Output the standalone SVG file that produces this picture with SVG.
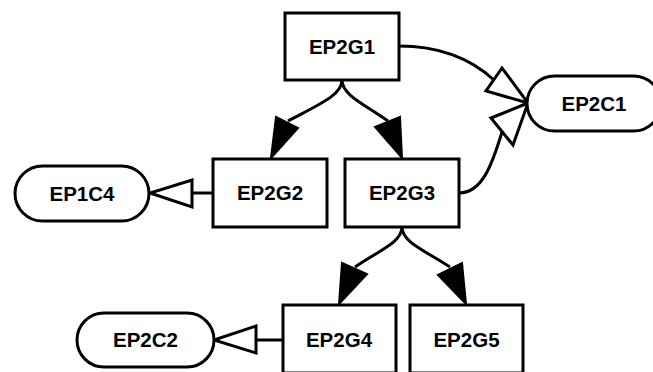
<svg xmlns="http://www.w3.org/2000/svg" width="653" height="372" viewBox="0 0 653 372">
  <style>
    .node rect { fill: #ffffff; stroke: #000000; stroke-width: 3; }
    .node text { font-family: "Liberation Sans", Arial, sans-serif; font-weight: bold; font-size: 20.5px; text-anchor: middle; fill: #000000; }
    .edge path { fill: none; stroke: #000000; stroke-width: 3; }
    .head-solid { fill: #000000; stroke: #000000; stroke-width: 2; stroke-linejoin: miter; }
    .head-open { fill: #ffffff; stroke: #000000; stroke-width: 3; stroke-linejoin: miter; }
  </style>
  <rect width="653" height="372" fill="#ffffff"/>

  <g id="connectors">
    <g class="edge" id="e-g1-g2">
      <path d="M342,80 C342,95 320,104 288,121"/>
      <polygon class="head-solid" points="276,117 298,128 271,158"/>
    </g>
    <g class="edge" id="e-g1-g3">
      <path d="M342,80 C342,95 364,104 388,121"/>
      <polygon class="head-solid" points="375,127 400,117 402,158"/>
    </g>
    <g class="edge" id="e-g3-g4">
      <path d="M402,227 C402,242 380,250 355,267"/>
      <polygon class="head-solid" points="342,263 367,274 339,304"/>
    </g>
    <g class="edge" id="e-g3-g5">
      <path d="M402,227 C402,242 424,250 450,267"/>
      <polygon class="head-solid" points="438,275 462,263 466,304"/>
    </g>
    <g class="edge" id="e-g1-c1">
      <path d="M399,46 C440,46 470,58 494,80"/>
      <polygon class="head-open" points="502,68 486,91 528,103"/>
    </g>
    <g class="edge" id="e-g3-c1">
      <path d="M459,193 C482,193 492,165 502,132"/>
      <polygon class="head-open" points="491,118 513,145 528,103"/>
    </g>
    <g class="edge" id="e-g2-c4">
      <path d="M213,193 L192,193"/>
      <polygon class="head-open" points="192,180 192,207 150,193"/>
    </g>
    <g class="edge" id="e-g4-c2">
      <path d="M283,340 L256,340"/>
      <polygon class="head-open" points="256,326 256,353 214,340"/>
    </g>
  </g>

  <g class="node" id="EP2G1">
    <rect x="285" y="13" width="114" height="67"/>
    <text x="342" y="53.8">EP2G1</text>
  </g>
  <g class="node" id="EP2G2">
    <rect x="213" y="159" width="114" height="68"/>
    <text x="270" y="200.3">EP2G2</text>
  </g>
  <g class="node" id="EP2G3">
    <rect x="345" y="159" width="114" height="68"/>
    <text x="402" y="200.3">EP2G3</text>
  </g>
  <g class="node" id="EP2G4">
    <rect x="283" y="305" width="113" height="68"/>
    <text x="339" y="347.3">EP2G4</text>
  </g>
  <g class="node" id="EP2G5">
    <rect x="410" y="305" width="113" height="68"/>
    <text x="466.5" y="347.3">EP2G5</text>
  </g>
  <g class="node" id="EP1C4">
    <rect x="15" y="166" width="134" height="55" rx="27.5" ry="27.5"/>
    <text x="82" y="200.8">EP1C4</text>
  </g>
  <g class="node" id="EP2C1">
    <rect x="527" y="76" width="134" height="55" rx="27.5" ry="27.5"/>
    <text x="594" y="110.8">EP2C1</text>
  </g>
  <g class="node" id="EP2C2">
    <rect x="77" y="313" width="137" height="54" rx="27" ry="27"/>
    <text x="145.5" y="347.3">EP2C2</text>
  </g>
</svg>
